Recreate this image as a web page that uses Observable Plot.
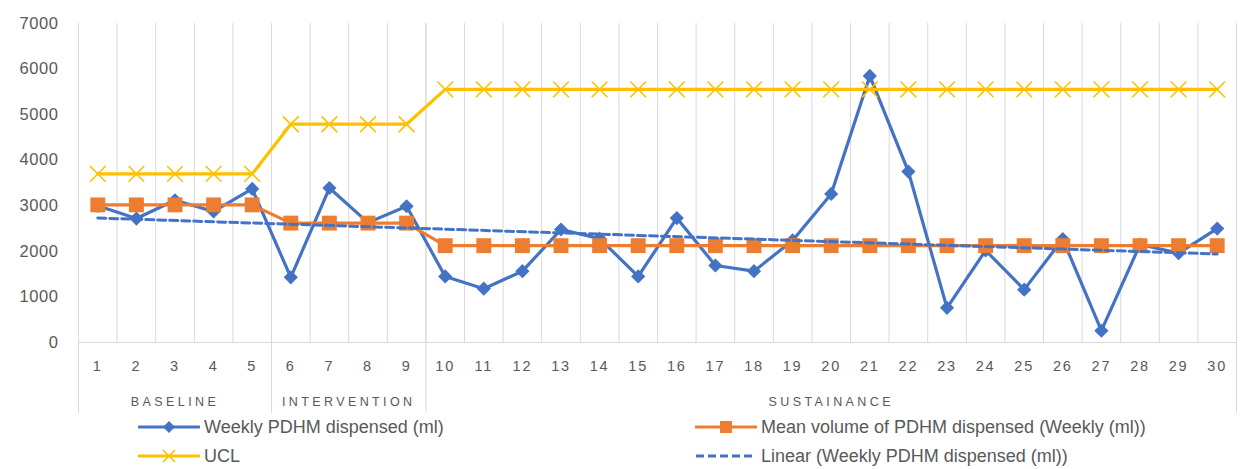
<!DOCTYPE html>
<html>
<head>
<meta charset="utf-8">
<script src="https://cdn.jsdelivr.net/npm/d3@7"></script>
<script src="https://cdn.jsdelivr.net/npm/@observablehq/plot@0.6"></script>
<style>
  html, body { margin: 0; padding: 0; background: #fff; }
  body { width: 1255px; height: 469px; overflow: hidden; font-family: "Liberation Sans", Arial, sans-serif; }
  #chart svg { display: block; }
  #legend { position: relative; height: 56px; color: #595959; font-size: 18px; }
  .item { position: absolute; display: flex; align-items: center; white-space: nowrap; }
  .item svg { display: block; margin-right: 4px; }
</style>
</head>
<body>
<div id="chart"></div>
<div id="legend"></div>
<script>
// ---- data ----
const weeks = [1,2,3,4,5,6,7,8,9,10,11,12,13,14,15,16,17,18,19,20,21,22,23,24,25,26,27,28,29,30];
const weeklyPDHM = [3000,2720,3120,2875,3370,1430,3390,2630,2990,1450,1180,1565,2480,2280,1450,2730,1690,1565,2240,3260,5850,3750,760,2020,1160,2270,260,2150,1960,2500];
const meanPDHM = [3020,3020,3020,3020,3020,2620,2620,2620,2620,2125,2125,2125,2125,2125,2125,2125,2125,2125,2125,2125,2125,2125,2125,2125,2125,2125,2125,2125,2125,2125];
const ucl = [3700,3700,3700,3700,3700,4790,4790,4790,4790,5555,5555,5555,5555,5555,5555,5555,5555,5555,5555,5555,5555,5555,5555,5555,5555,5555,5555,5555,5555,5555];
const yTicks = [0,1000,2000,3000,4000,5000,6000,7000];
const phaseNames = ["BASELINE","INTERVENTION","SUSTAINANCE"];
const phaseStart = [1,6,10];
const phaseEnd = [5,9,30];
const seriesNames = ["Weekly PDHM dispensed (ml)","Mean volume of PDHM dispensed (Weekly (ml))","UCL","Linear (Weekly PDHM dispensed (ml))"];

const BLUE = "#4472C4", ORANGE = "#ED7D31", GOLD = "#FFC000", GRID = "#d9d9d9", TEXT = "#595959";

const rows = weeks.map((w, i) => ({week: w, weekly: weeklyPDHM[i], mean: meanPDHM[i], ucl: ucl[i]}));
const inner = weeks.slice(0, -1).map(w => w + 0.5);
const separators = [...phaseStart.map(s => s - 0.5), phaseEnd[phaseEnd.length - 1] + 0.5];
const phases = phaseNames.map((n, i) => ({name: n, mid: (phaseStart[i] + phaseEnd[i]) / 2}));

const plot = Plot.plot({
  width: 1255,
  height: 413,
  marginLeft: 78,
  marginRight: 19,
  marginTop: 23,
  marginBottom: 71,
  style: {fontFamily: "'Liberation Sans', Arial, sans-serif", color: TEXT, background: "#fff", overflow: "visible"},
  x: {type: "linear", domain: [0.5, 30.5], axis: null},
  y: {domain: [0, 7000], axis: null},
  marks: [
    Plot.ruleX(inner, {stroke: GRID, strokeWidth: 1}),
    Plot.ruleX(separators, {stroke: GRID, strokeWidth: 1, insetBottom: -71}),
    Plot.ruleY([0], {x1: 0.5, x2: 30.5, stroke: GRID, strokeWidth: 1}),
    Plot.axisY({ticks: yTicks, tickSize: 0, tickPadding: 20, fontSize: 16.5, tickFormat: d => String(d), fill: TEXT}),
    Plot.axisX({ticks: weeks, tickSize: 0, tickPadding: 18, fontSize: 14.5, tickFormat: d => String(d), fill: TEXT}),
    Plot.text(phases, {x: "mid", y: () => 0, dy: 59, text: "name", fontSize: 12.5, fill: TEXT}),
    Plot.line(rows, {x: "week", y: "weekly", stroke: BLUE, strokeWidth: 3.2, strokeLinejoin: "round"}),
    Plot.dot(rows, {x: "week", y: "weekly", symbol: "diamond2", r: 6.4, fill: BLUE, stroke: "none"}),
    Plot.line(rows, {x: "week", y: "mean", stroke: ORANGE, strokeWidth: 3.2, strokeLinejoin: "round"}),
    Plot.dot(rows, {x: "week", y: "mean", symbol: "square", r: 8.4, fill: ORANGE, stroke: "none"}),
    Plot.line(rows, {x: "week", y: "ucl", stroke: GOLD, strokeWidth: 3.2, strokeLinejoin: "round"}),
    Plot.dot(rows, {x: "week", y: "ucl", symbol: "times", r: 7.2, stroke: GOLD, strokeWidth: 1.6, fill: "none"}),
    Plot.linearRegressionY(rows, {x: "week", y: "weekly", stroke: BLUE, strokeWidth: 3, strokeDasharray: "8,4", ci: 0})
  ]
});
document.getElementById("chart").appendChild(plot);

d3.select(plot).selectAll("text").each(function() {
  const t = this.textContent;
  const sel = d3.select(this);
  if (phaseNames.includes(t)) sel.style("letter-spacing", "3.4px");
  else if (weeks.map(String).includes(t)) sel.style("letter-spacing", "1.8px");
  else if (yTicks.map(String).includes(t)) sel.style("letter-spacing", "0.6px");
});

// ---- legend ----
const legend = d3.select("#legend");
const items = [
  {name: seriesNames[0], left: 138, top: 0, color: BLUE, marker: "diamond"},
  {name: seriesNames[1], left: 695, top: 0, color: ORANGE, marker: "square"},
  {name: seriesNames[2], left: 138, top: 29, color: GOLD, marker: "times"},
  {name: seriesNames[3], left: 695, top: 29, color: BLUE, marker: "dash"}
];
items.forEach(it => {
  const div = legend.append("div").attr("class", "item").style("left", it.left + "px").style("top", it.top + "px").style("height", "28px");
  const s = div.append("svg").attr("width", 62).attr("height", 20);
  if (it.marker === "dash") {
    s.append("line").attr("x1", 1).attr("x2", 61).attr("y1", 10).attr("y2", 10).attr("stroke", it.color).attr("stroke-width", 3).attr("stroke-dasharray", "8,4");
  } else {
    s.append("line").attr("x1", 1).attr("x2", 61).attr("y1", 10).attr("y2", 10).attr("stroke", it.color).attr("stroke-width", 3.2).attr("stroke-linecap", "round");
    if (it.marker === "diamond") s.append("path").attr("d", "M31,4L37,10L31,16L25,10Z").attr("fill", it.color);
    if (it.marker === "square") s.append("rect").attr("x", 25).attr("y", 4).attr("width", 12).attr("height", 12).attr("fill", it.color);
    if (it.marker === "times") s.append("path").attr("d", "M25,4L37,16M37,4L25,16").attr("stroke", it.color).attr("stroke-width", 1.6);
  }
  div.append("span").text(it.name);
});
</script>
</body>
</html>
